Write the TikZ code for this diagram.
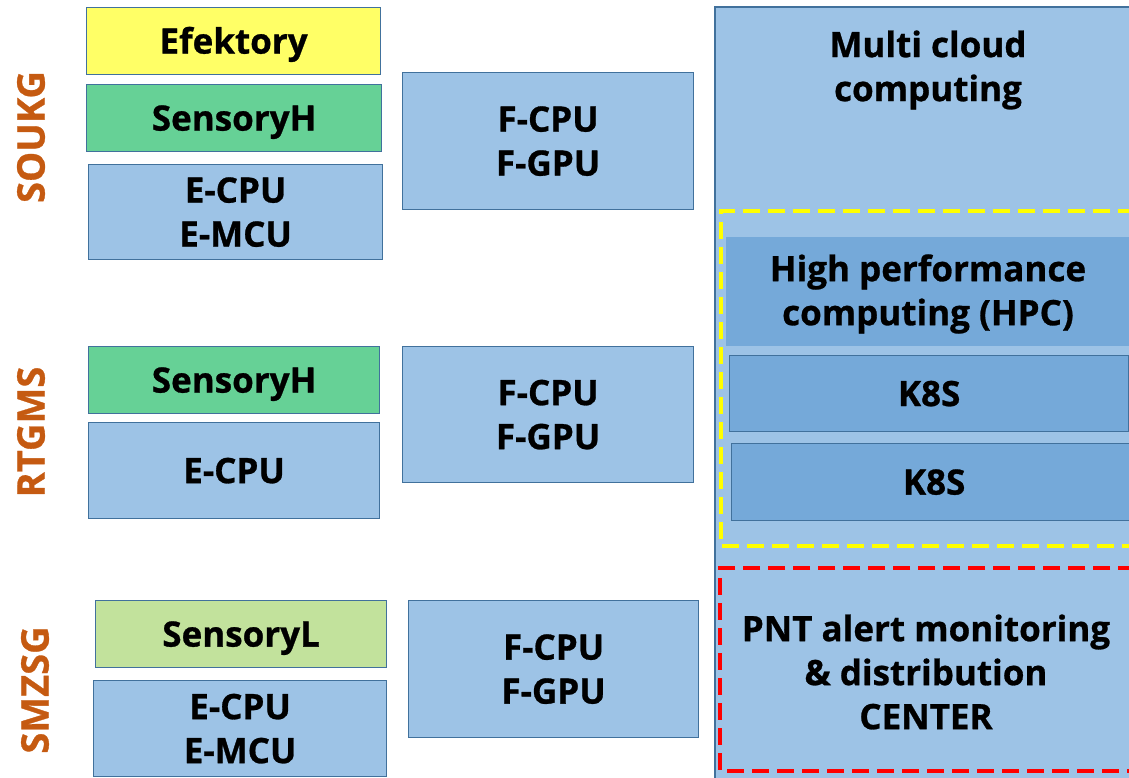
\documentclass[tikz,border=0pt]{standalone}
\usepackage{fontspec}
\setmainfont{Open Sans}[BoldFeatures={FakeBold=0.8}]
\begin{document}
\begin{tikzpicture}[x=1pt,y=-1pt,
  bx/.style={draw=edge, line width=1.2pt, inner sep=0pt, align=center,
    font=\bfseries\fontsize{35}{44}\selectfont},
  one/.style={text height=25pt, text depth=0pt},
  txt/.style={font=\bfseries\fontsize{35}{44}\selectfont, align=center},
  lab/.style={font=\bfseries\fontsize{38}{40}\selectfont, text=lab, rotate=90},
  dsh/.style={line width=3.5pt, dash pattern=on 17pt off 8pt}]
\definecolor{edge}{HTML}{41719C}
\definecolor{lb}{HTML}{9DC3E6}
\definecolor{db}{HTML}{75A9D9}
\definecolor{yl}{HTML}{FFFF66}
\definecolor{gr}{HTML}{66D196}
\definecolor{lg}{HTML}{C2E29C}
\definecolor{lab}{HTML}{C55A11}
\definecolor{ydash}{HTML}{FFFF00}
\definecolor{rdash}{HTML}{FF0000}
\useasboundingbox (0,0) rectangle (1129,777);
% right column
\path[fill=lb] (715,7) rectangle (1135,785);
\draw[edge, line width=1.2pt] (1135,7) -- (715,7) -- (715,785);
\node[txt] (mc) at (928,70) {Multi cloud\\computing};
\draw[ydash, dsh] (1135,211) -- (721,211) -- (721,546) -- (1135,546);
\node[fill=db, inner sep=0pt, minimum width=410pt, minimum height=109pt, anchor=north west] (hpc) at (726,237) {};
\node[txt] (hpct) at (928,294) {High performance\\computing (HPC)};
\node[bx, one, fill=db, minimum width=399pt, minimum height=76pt, anchor=north west] (k1) at (729,355) {K8S};
\node[bx, one, fill=db, minimum width=405pt, minimum height=77pt, anchor=north west] (k2) at (731,443) {K8S};
\draw[rdash, dsh] (1135,568) -- (720,568) -- (720,771) -- (1135,771);
\node[txt] (pnt) at (926,672) {PNT alert monitoring\\\& distribution\\CENTER};
% left groups
\node[bx, one, fill=yl, minimum width=294pt, minimum height=67pt, anchor=north west] (ef) at (86,7) {Efektory};
\node[bx, one, fill=gr, minimum width=295pt, minimum height=67pt, anchor=north west] (sh1) at (86,84) {SensoryH};
\node[bx, fill=lb, minimum width=294pt, minimum height=95pt, anchor=north west] (e1) at (88,164) {E-CPU\\E-MCU};
\node[bx, fill=lb, minimum width=291pt, minimum height=137pt, anchor=north west] (f1) at (402,72) {F-CPU\\F-GPU};
\node[bx, one, fill=gr, minimum width=291pt, minimum height=67pt, anchor=north west] (sh2) at (88,346) {SensoryH};
\node[bx, one, fill=lb, minimum width=291pt, minimum height=96pt, anchor=north west] (e2) at (88,422) {E-CPU};
\node[bx, fill=lb, minimum width=291pt, minimum height=136pt, anchor=north west] (f2) at (402,346) {F-CPU\\F-GPU};
\node[bx, one, fill=lg, minimum width=291pt, minimum height=67pt, anchor=north west] (sl) at (95,600) {SensoryL};
\node[bx, fill=lb, minimum width=293pt, minimum height=96pt, anchor=north west] (e3) at (93,680) {E-CPU\\E-MCU};
\node[bx, fill=lb, minimum width=290pt, minimum height=137pt, anchor=north west] (f3) at (408,600) {F-CPU\\F-GPU};
\node[lab] (l1) at (31,137) {SOUKG};
\node[lab] (l2) at (31,432) {RTGMS};
\node[lab] (l3) at (35,690) {SMZSG};
\end{tikzpicture}
\end{document}
